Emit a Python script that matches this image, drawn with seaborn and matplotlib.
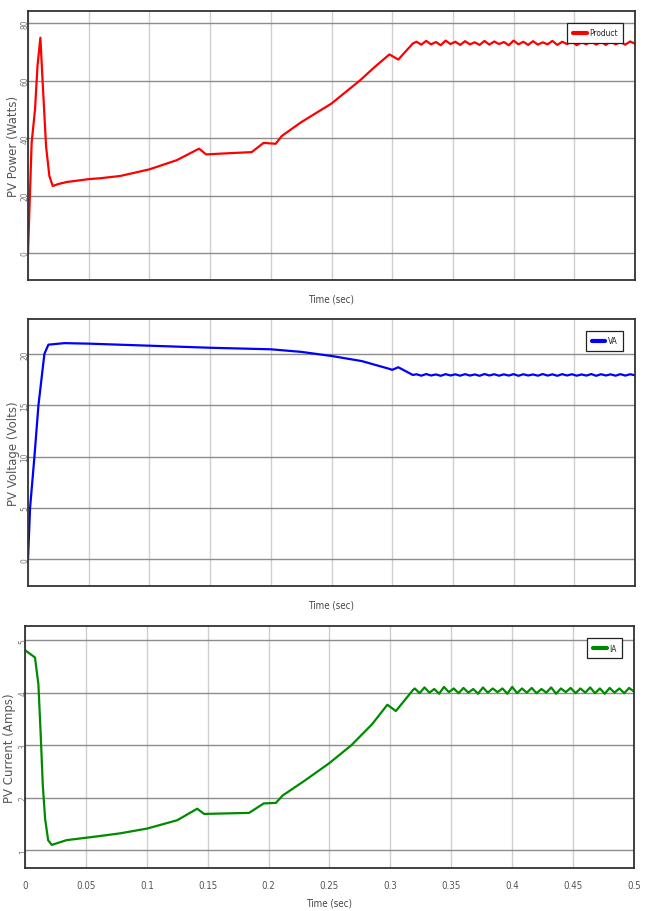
import numpy as np
import pandas as pd
import matplotlib
matplotlib.use("Agg")
import matplotlib.pyplot as plt
import seaborn as sns

# ---------------- data ----------------
t_power = [0, 0.003, 0.0058, 0.0078, 0.0102, 0.012, 0.0149, 0.0176, 0.0204, 0.025,
           0.032, 0.05, 0.0594, 0.076, 0.1, 0.1226, 0.1409, 0.1467, 0.16, 0.1843,
           0.194, 0.204, 0.209, 0.225, 0.25, 0.2736, 0.285, 0.2977, 0.305, 0.317]
power = [0, 38.4, 50, 65, 74.9, 60, 37, 26.8, 23.3, 24.0,
         24.7, 25.7, 26.0, 26.8, 29.1, 32.3, 36.3, 34.3, 34.6, 35.1,
         38.3, 38.0, 40.7, 45.5, 52.0, 60.1, 64.5, 69.1, 67.3, 72.9]

t_voltage = [0, 0.0017, 0.0053, 0.0086, 0.0135, 0.0168, 0.03, 0.05, 0.1, 0.15,
             0.2, 0.225, 0.25, 0.275, 0.2975, 0.3, 0.305, 0.317]
voltage = [0, 5, 10, 15, 20, 20.9, 21.05, 21.0, 20.8, 20.6,
           20.45, 20.2, 19.8, 19.3, 18.55, 18.45, 18.7, 17.95]

t_current = [0, 0.0082, 0.011, 0.0129, 0.0146, 0.0165, 0.019, 0.022, 0.034, 0.0618,
             0.078, 0.1, 0.125, 0.1414, 0.147, 0.184, 0.196, 0.206, 0.2115, 0.23,
             0.25, 0.268, 0.285, 0.2975, 0.3045, 0.3185]
current = [4.81, 4.67, 4.16, 3.2, 2.24, 1.6, 1.19, 1.1, 1.19, 1.27,
           1.32, 1.41, 1.57, 1.79, 1.69, 1.71, 1.89, 1.9, 2.04, 2.33,
           2.66, 3.0, 3.4, 3.77, 3.65, 4.05]

# steady-state ripple
t_steady = [0.320, 0.324, 0.328, 0.332, 0.336, 0.340, 0.344, 0.348, 0.352, 0.356,
            0.360, 0.364, 0.368, 0.372, 0.376, 0.380, 0.384, 0.388, 0.392, 0.396,
            0.400, 0.404, 0.408, 0.412, 0.416, 0.420, 0.424, 0.428, 0.432, 0.436,
            0.440, 0.444, 0.448, 0.452, 0.456, 0.460, 0.464, 0.468, 0.472, 0.476,
            0.480, 0.484, 0.488, 0.492, 0.496, 0.500]
power_steady = [73.5, 72.5, 73.8, 72.6, 73.4, 72.3, 73.9, 72.7, 73.5, 72.4,
                73.7, 72.6, 73.3, 72.4, 73.8, 72.5, 73.6, 72.7, 73.4, 72.3,
                73.9, 72.6, 73.5, 72.4, 73.7, 72.5, 73.3, 72.6, 73.8, 72.4,
                73.5, 72.7, 73.6, 72.3, 73.4, 72.6, 73.8, 72.5, 73.5, 72.4,
                73.7, 72.6, 73.4, 72.5, 73.6, 72.8]
voltage_steady = [18.02, 17.88, 18.04, 17.90, 18.00, 17.87, 18.03, 17.90, 18.01, 17.88,
                  18.03, 17.89, 18.00, 17.87, 18.04, 17.90, 18.02, 17.88, 18.01, 17.89,
                  18.03, 17.87, 18.02, 17.90, 18.00, 17.88, 18.04, 17.89, 18.01, 17.87,
                  18.03, 17.90, 18.02, 17.88, 18.00, 17.89, 18.04, 17.87, 18.02, 17.90,
                  18.01, 17.88, 18.03, 17.89, 18.02, 17.92]
current_steady = [4.08, 3.99, 4.10, 4.00, 4.07, 3.98, 4.11, 4.01, 4.08, 3.99,
                  4.09, 4.00, 4.07, 3.98, 4.10, 4.00, 4.08, 4.01, 4.08, 3.98,
                  4.11, 3.99, 4.08, 4.00, 4.09, 3.99, 4.07, 4.00, 4.10, 3.98,
                  4.08, 4.01, 4.09, 3.99, 4.08, 4.00, 4.10, 3.99, 4.08, 3.98,
                  4.09, 4.00, 4.08, 3.99, 4.09, 4.02]

x_ticks = [0, 0.05, 0.1, 0.15, 0.2, 0.25, 0.3, 0.35, 0.4, 0.45, 0.5]
x_ticklabels = ["0", "0.05", "0.1", "0.15", "0.2", "0.25", "0.3", "0.35", "0.4", "0.45", "0.5"]
power_yticks = [0, 20, 40, 60, 80]
voltage_yticks = [0, 5, 10, 15, 20]
current_yticks = [1, 2, 3, 4, 5]

# ---------------- style ----------------
sns.set_style("white")
plt.rcParams["font.family"] = ["DejaVu Sans"]
NARROW = dict(family=["DejaVu Sans"], stretch="condensed")

fig = plt.figure(figsize=(6.48, 9.12), dpi=100)
W, H = 648.0, 912.0


def make_axes(left, right, top, bottom):
    return fig.add_axes([left / W, 1 - bottom / H, (right - left) / W, (bottom - top) / H])


panels = [
    dict(box=(28, 635, 12, 281), t=t_power + t_steady, y=power + power_steady,
         color="#ff0000", label="Product", ylabel="PV Power (Watts)",
         ylim=(-9.4, 84.2), yticks=power_yticks, show_x=False, ylab_x=20, ypad=-1),
    dict(box=(28, 635, 320, 587), t=t_voltage + t_steady, y=voltage + voltage_steady,
         color="#0000ff", label="VA", ylabel="PV Voltage (Volts)",
         ylim=(-2.6, 23.4), yticks=voltage_yticks, show_x=False, ylab_x=20, ypad=-1),
    dict(box=(25, 634, 627, 869), t=t_current + t_steady, y=current + current_steady,
         color="#008a00", label="IA", ylabel="PV Current (Amps)",
         ylim=(0.66, 5.27), yticks=current_yticks, show_x=True, ylab_x=16, ypad=-2),
]

for p in panels:
    left, right, top, bottom = p["box"]
    ax = make_axes(left, right, top, bottom)
    df = pd.DataFrame({"Time": p["t"], "Value": p["y"]})
    sns.lineplot(data=df, x="Time", y="Value", ax=ax, color=p["color"],
                 linewidth=1.6, label=p["label"], sort=False, estimator=None)
    ax.set_xlim(0, 0.5)
    ax.set_ylim(*p["ylim"])
    ax.set_xticks(x_ticks)
    ax.set_yticks(p["yticks"])
    ax.set_yticklabels([str(v) for v in p["yticks"]], rotation=90, va="center",
                       fontsize=6, color="#777777", **NARROW)
    ax.tick_params(axis="both", direction="in", length=3, width=0.6, color="#444444")
    ax.tick_params(axis="y", pad=p["ypad"])
    if p["show_x"]:
        ax.set_xticklabels(x_ticklabels, fontsize=7, color="#555555", **NARROW)
        ax.tick_params(axis="x", pad=9)
        lp = 5
    else:
        ax.set_xticklabels([])
        lp = 6
    ax.grid(True, axis="y", color="#8c8c8c", linewidth=1.0)
    ax.grid(True, axis="x", color="#cfcfcf", linewidth=1.0)
    ax.set_axisbelow(True)
    for s in ax.spines.values():
        s.set_color("#333333")
        s.set_linewidth(1.3)
    ax.set_xlabel("Time (sec)", fontsize=7, color="#444444", labelpad=lp, **NARROW)
    ax.set_ylabel(p["ylabel"], fontsize=8.5, color="#555555", family=["DejaVu Sans"])
    ax.yaxis.set_label_coords((p["ylab_x"] - left) / (right - left), 0.5)
    leg = ax.legend(loc="upper right", frameon=True, fancybox=False,
                    handlelength=1.6, handletextpad=0.3, borderpad=0.7,
                    borderaxespad=1.4, prop=dict(size=6, **NARROW))
    leg.get_frame().set_edgecolor("#222222")
    leg.get_frame().set_linewidth(0.9)
    leg.get_frame().set_alpha(1.0)
    for line in leg.get_lines():
        line.set_linewidth(3)

fig.savefig("out.png", dpi=100)
